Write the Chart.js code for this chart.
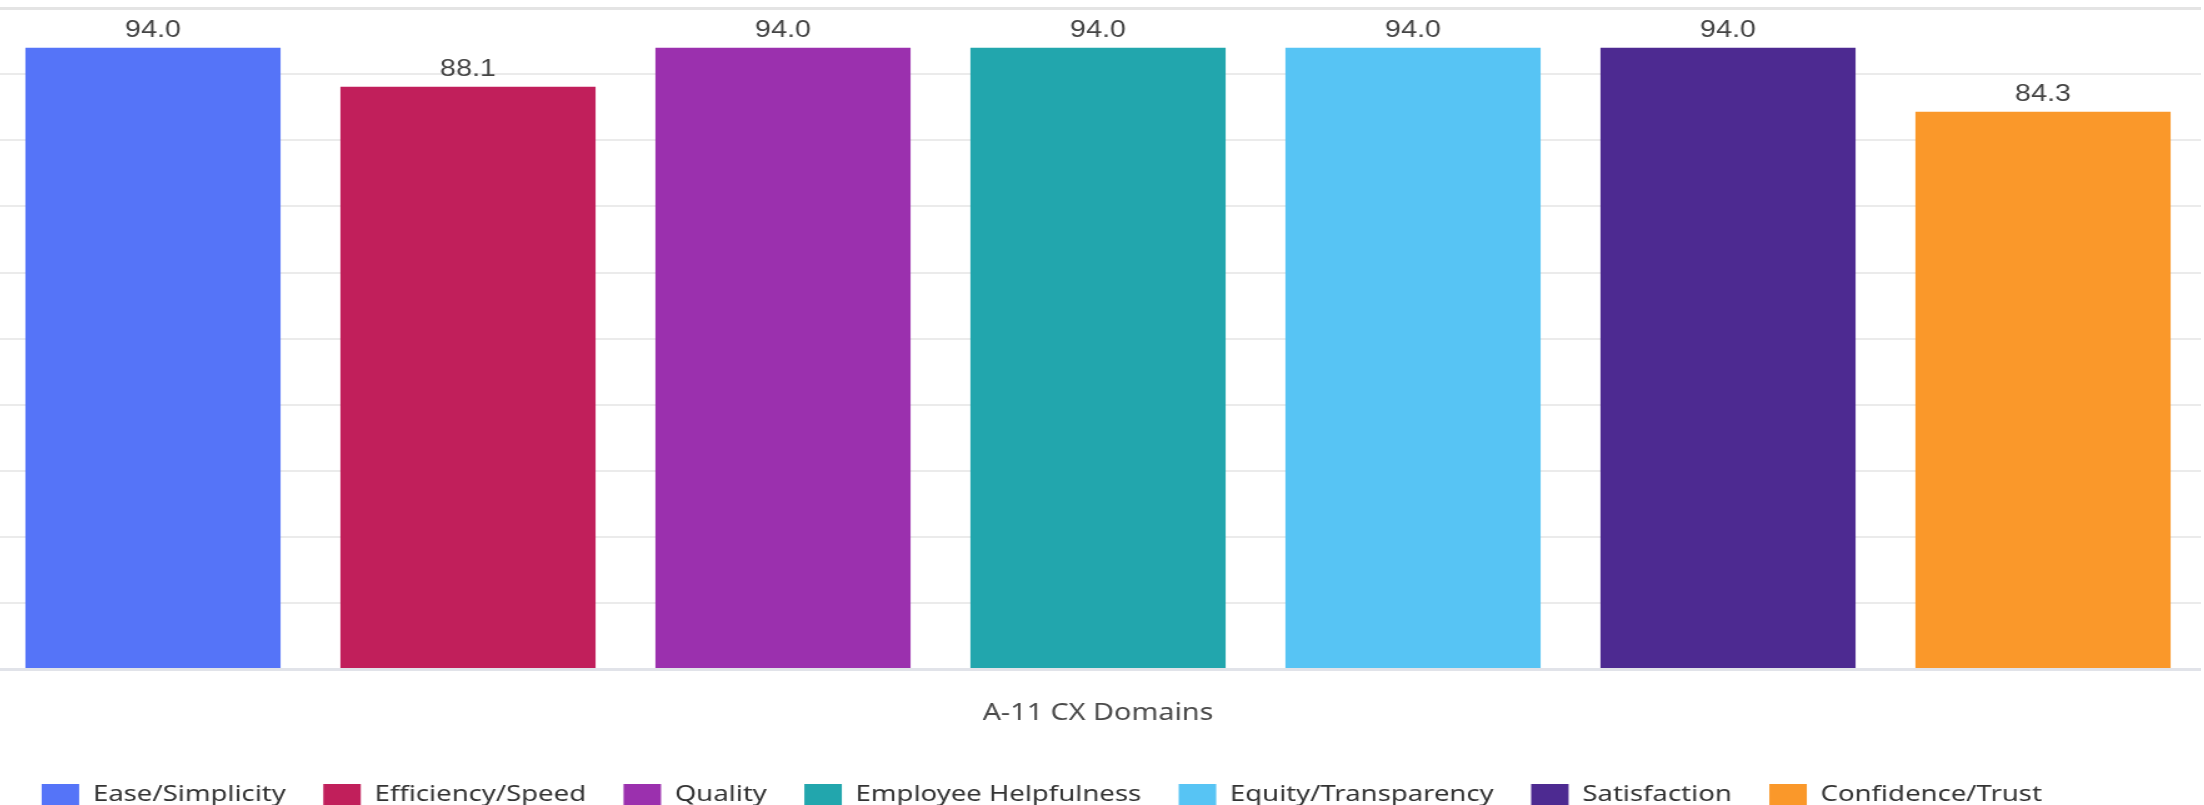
<!DOCTYPE html>
<html>
<head>
<meta charset="utf-8">
<script src="https://cdn.jsdelivr.net/npm/chart.js@4"></script>
<style>
  html, body { margin: 0; padding: 0; background: #fff; overflow: hidden; }
  body { width: 2204px; height: 805px; position: relative; }
  /* the chart is drawn a bit narrow and widened with a horizontal stretch */
  .wrap {
    position: absolute;
    left: -117px;
    top: 0;
    width: 1854px;
    height: 816px;
    transform: scaleX(1.25);
    transform-origin: 0 0;
  }
</style>
</head>
<body>
<div class="wrap"><canvas id="cx"></canvas></div>
<script>
const domains = ['Ease/Simplicity', 'Efficiency/Speed', 'Quality', 'Employee Helpfulness',
  'Equity/Transparency', 'Satisfaction', 'Confidence/Trust'];
const scores = [94.0, 88.1, 94.0, 94.0, 94.0, 94.0, 84.3];
const colors = ['#5574f8', '#c11f5b', '#9b30ae', '#22a6ad', '#57c4f4', '#4d2a91', '#fa982a'];
const yTicks = [0, 10, 20, 30, 40, 50, 60, 70, 80, 90, 100];

// one dataset per domain so every bar gets its own legend entry
const datasets = domains.map((name, i) => ({
  label: name,
  data: domains.map((_, j) => (j === i ? scores[i] : null)),
  backgroundColor: colors[i],
  borderWidth: 0,
  skipNull: true,
  barPercentage: 0.9,
  categoryPercentage: 0.9
}));

// value written above each bar
const barValues = {
  id: 'barValues',
  afterDatasetsDraw(chart) {
    const ctx = chart.ctx;
    ctx.save();
    ctx.font = '23px "Liberation Sans", Arial, sans-serif';
    ctx.fillStyle = '#444';
    ctx.textAlign = 'center';
    ctx.textBaseline = 'alphabetic';
    chart.data.datasets.forEach((ds, i) => {
      chart.getDatasetMeta(i).data.forEach((bar, j) => {
        const v = ds.data[j];
        if (v === null) return;
        ctx.fillText(v.toFixed(1), bar.x, bar.y - 11);
      });
    });
    ctx.restore();
  }
};

new Chart(document.getElementById('cx'), {
  type: 'bar',
  data: { labels: domains, datasets: datasets },
  plugins: [barValues],
  options: {
    responsive: true,
    maintainAspectRatio: false,
    animation: false,
    layout: { padding: { top: 8 } },
    plugins: {
      tooltip: { enabled: false },
      legend: {
        position: 'bottom',
        labels: {
          boxWidth: 30,
          boxHeight: 22,
          padding: 30,
          color: '#333',
          font: { family: '"Noto Sans", sans-serif', size: 22 }
        }
      }
    },
    scales: {
      x: {
        grid: { display: false },
        border: { display: false },
        ticks: { display: false },
        title: {
          display: true,
          text: 'A-11 CX Domains',
          color: '#4a4a4a',
          font: { family: '"Noto Sans", sans-serif', size: 23 },
          padding: { top: 22, bottom: 27 }
        }
      },
      y: {
        min: yTicks[0],
        max: yTicks[yTicks.length - 1],
        afterBuildTicks: (scale) => { scale.ticks = yTicks.map(v => ({ value: v })); },
        afterFit: (scale) => { scale.width = 90; },
        ticks: { display: false },
        border: { display: false },
        grid: {
          drawTicks: false,
          color: (c) => (c.tick && c.tick.value === 0 ? '#e1e3e9' : c.tick && c.tick.value === 100 ? '#e4e4e4' : '#ebebeb'),
          lineWidth: (c) => (c.tick && (c.tick.value === 0 || c.tick.value === 100) ? 3 : 2)
        }
      }
    }
  }
});
</script>
</body>
</html>
